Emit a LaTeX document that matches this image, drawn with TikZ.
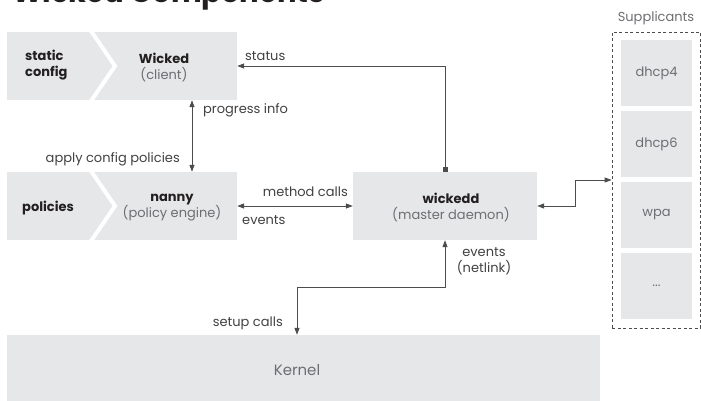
\documentclass[tikz,border=0pt]{standalone}
\usepackage{fontspec}
\setmainfont{Poppins}
\usepackage{xcolor}
\usepackage{tikz}
\usetikzlibrary{arrows.meta,positioning,calc}

\definecolor{boxgray}{HTML}{E6E7E8}
\definecolor{inkdark}{HTML}{231F20}
\definecolor{inkmid}{HTML}{414042}
\definecolor{inklight}{HTML}{6D6E71}
\definecolor{linegray}{HTML}{4D4D4D}

\newcommand{\moredots}{...}

\tikzset{
    box/.style={fill=boxgray, inner sep=0pt},
    lbl/.style={font=\fontsize{13}{16}\selectfont, text=inkmid, inner sep=0pt},
    boxtext/.style={font=\fontsize{13}{16}\selectfont, text=inklight, align=center, inner sep=0pt},
    conn/.style={draw=linegray, line width=0.8pt, {Triangle[length=7pt,width=5pt]}-{Triangle[length=7pt,width=5pt]}},
}

\begin{document}
\begin{tikzpicture}[x=1pt,y=-1pt]
    \useasboundingbox (0,0) rectangle (701,401);

    % Title
    \node[anchor=base west, inner sep=0pt, text=inkdark, font=\fontsize{29}{32}\selectfont\bfseries] (title) at (12,3) {Wicked Components};

    % Boxes
    \node[box, minimum width=230pt, minimum height=68pt] (wicked) at (122,66) {};
    \node[box, minimum width=230pt, minimum height=68pt] (nanny) at (122,206) {};
    \node[box, minimum width=184pt, minimum height=68pt] (wickedd) at (445,206) {};
    \node[box, minimum width=593pt, minimum height=66pt] (kernel) at (303.5,368) {};

    % Chevrons
    \draw[white, line width=4pt] (91,31) -- (115,66) -- (91,101);
    \draw[white, line width=4pt] (91,171) -- (115,206) -- (91,241);

    % Box texts
    \node[anchor=west, align=left, inner sep=0pt, text=inkdark, font=\fontsize{13}{16}\selectfont\bfseries] (static) at (25,65) {static\\config};
    \node[boxtext] (wickedlbl) at (164,68) {\textcolor{inkdark}{\bfseries Wicked}\\(client)};
    \node[anchor=west, inner sep=0pt, text=inkdark, font=\fontsize{13}{16}\selectfont\bfseries] (pol) at (22,208) {policies};
    \node[boxtext] (nannylbl) at (172,208) {\textcolor{inkdark}{\bfseries nanny}\\(policy engine)};
    \node[boxtext] (wickeddlbl) at (451,208) {\textcolor{inkdark}{\bfseries wickedd}\\(master daemon)};
    \node[boxtext, font=\fontsize{15}{18}\selectfont] (kernellbl) at (297,370) {Kernel};

    % Supplicants
    \node[text=inklight, font=\fontsize{13}{16}\selectfont, inner sep=0pt] (supptitle) at (656,18) {Supplicants};
    \node[draw=linegray, dash pattern=on 3pt off 2.5pt, line width=0.7pt, minimum width=88pt, minimum height=296pt, inner sep=0pt] (supp) at (656,180) {};
    \foreach \name/\txt [count=\i] in {dhcpfour/dhcp4, dhcpsix/dhcp6, wpa/wpa, more/\moredots} {
        \node[box, minimum width=71pt, minimum height=66pt] (\name) at (656.5,{73+71*(\i-1)}) {};
        \node[boxtext] at (\name) {\txt};
    }

    % Connectors
    \coordinate (prog) at (192,0);
    \coordinate (bend) at (575,0);
    \coordinate (drop) at (297,287);
    \draw[conn, {Triangle[length=7pt,width=5pt]}-{Square[length=5pt,width=5pt]}] (wicked.east) -| (wickedd.north);
    \draw[conn] (wicked.south -| prog) -- (nanny.north -| prog);
    \draw[conn] (nanny.east) -- (wickedd.west);
    \draw[conn] (wickedd.east) -- (wickedd.east -| bend) |- (supp.west);
    \draw[conn] (wickedd.south) |- (drop) -- (drop |- kernel.north);

    % Labels
    \node[lbl, anchor=west] (status) at (245,56) {status};
    \node[lbl, anchor=west] (proginfo) at (203,110) {progress info};
    \node[lbl, anchor=east] (apply) at (180,159) {apply config policies};
    \node[lbl, anchor=east] (calls) at (348,192) {method calls};
    \node[lbl, anchor=west] (events) at (242,220) {events};
    \node[lbl, align=center] (netlink) at (484,261) {events\\(netlink)};
    \node[lbl, anchor=east] (setup) at (283,323) {setup calls};
\end{tikzpicture}
\end{document}
